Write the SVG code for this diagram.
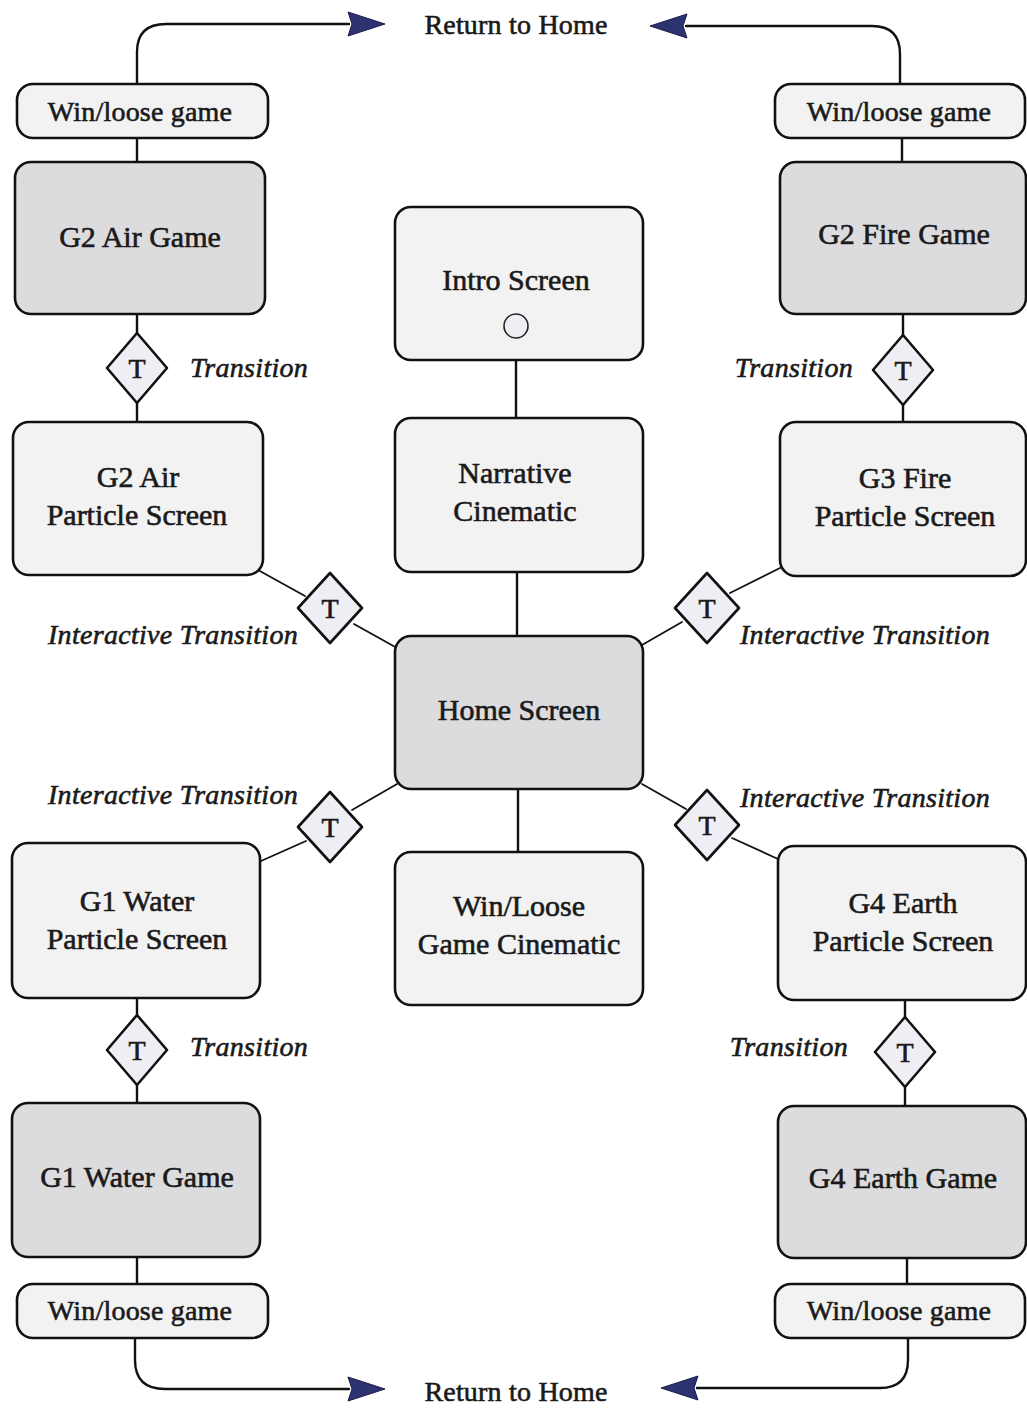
<svg xmlns="http://www.w3.org/2000/svg" width="1027" height="1408" viewBox="0 0 1027 1408">
<style>
.box{stroke:#111;stroke-width:2.6;stroke-linejoin:round}
.lt{fill:#f2f2f2}
.dk{fill:#dcdcde}
.dia{fill:#eeeef4;stroke:#111;stroke-width:2.6;stroke-linejoin:round}
text{stroke:#1a1a1a;stroke-width:0.6;fill:#1a1a1a;font-family:"Liberation Serif","Times New Roman",serif}
.lbl{font-size:30px;text-anchor:middle}
.sm{font-size:28px;text-anchor:middle;letter-spacing:0.2px}
.it{font-size:28px;font-style:italic;letter-spacing:0.3px}
.tt{font-size:28px;text-anchor:middle}
.ln{fill:none;stroke:#111;stroke-width:2.4;stroke-linecap:round}
.thin{fill:none;stroke:#111;stroke-width:1.8;stroke-linecap:round}
.ah{fill:#2d3270;stroke:#1a1d4a;stroke-width:1}
</style>
<defs>
<marker id="arr" markerUnits="userSpaceOnUse" markerWidth="40" markerHeight="28" refX="1" refY="12" orient="auto" overflow="visible">
<path class="ah" d="M0,0 L37,12 L0,24 L4,12 Z"/>
</marker>
</defs>
<rect width="1027" height="1408" fill="#ffffff"/>

<g id="connectors">
<path class="ln" d="M137,84 V52 Q137,24 166,24 H349" marker-end="url(#arr)"/>
<path class="ln" d="M900,84 V54 Q900,26 872,26 H686" marker-end="url(#arr)"/>
<path class="ln" d="M135,1338 V1360 Q135,1389 165,1389 H349" marker-end="url(#arr)"/>
<path class="ln" d="M908,1338 V1360 Q908,1388 880,1388 H697" marker-end="url(#arr)"/>
<path class="ln" d="M137,138 V162"/>
<path class="ln" d="M902,138 V162"/>
<path class="ln" d="M137,1257 V1284"/>
<path class="ln" d="M907,1258 V1284"/>
<path class="ln" d="M137,314 V333"/>
<path class="ln" d="M137,403 V422"/>
<path class="ln" d="M903,314 V335"/>
<path class="ln" d="M903,405 V422"/>
<path class="ln" d="M137,998 V1015"/>
<path class="ln" d="M137,1085 V1103"/>
<path class="ln" d="M905,1000 V1017"/>
<path class="ln" d="M905,1087 V1106"/>
<path class="ln" d="M516,360 V418"/>
<path class="ln" d="M517,572 V636"/>
<path class="ln" d="M518,789 V852"/>
<path class="thin" d="M258,570 L305,596"/>
<path class="thin" d="M354,624 L397,648"/>
<path class="thin" d="M782,567 L730,593"/>
<path class="thin" d="M682,622 L642,645"/>
<path class="thin" d="M397,784 L352,810"/>
<path class="thin" d="M306,841 L261,861"/>
<path class="thin" d="M642,784 L686,809"/>
<path class="thin" d="M732,838 L778,859"/>
</g>

<g id="return-top"><text class="sm" x="516" y="34">Return to Home</text></g>
<g id="return-bottom"><text class="sm" x="516" y="1401">Return to Home</text></g>

<g id="winloose-tl"><rect class="box lt" x="17" y="84" width="251" height="54" rx="16"/><text class="sm" x="140" y="121">Win/loose game</text></g>
<g id="winloose-tr"><rect class="box lt" x="775" y="84" width="250" height="54" rx="16"/><text class="sm" x="899" y="121">Win/loose game</text></g>
<g id="winloose-bl"><rect class="box lt" x="17" y="1284" width="251" height="54" rx="16"/><text class="sm" x="140" y="1320">Win/loose game</text></g>
<g id="winloose-br"><rect class="box lt" x="775" y="1284" width="250" height="54" rx="16"/><text class="sm" x="899" y="1320">Win/loose game</text></g>

<g id="g2-air-game"><rect class="box dk" x="15" y="162" width="250" height="152" rx="16"/><text class="lbl" x="140" y="247">G2 Air Game</text></g>
<g id="g2-fire-game"><rect class="box dk" x="780" y="162" width="246" height="152" rx="16"/><text class="lbl" x="904" y="244">G2 Fire Game</text></g>
<g id="intro-screen"><rect class="box lt" x="395" y="207" width="248" height="153" rx="16"/><text class="lbl" x="516" y="290">Intro Screen</text><circle cx="516" cy="326" r="12" fill="#eeeef4" stroke="#222" stroke-width="1.6"/></g>

<g id="g2-air-particle"><rect class="box lt" x="13" y="422" width="250" height="153" rx="16"/><text class="lbl" x="138" y="487">G2 Air</text><text class="lbl" x="137" y="525">Particle Screen</text></g>
<g id="narrative"><rect class="box lt" x="395" y="418" width="248" height="154" rx="16"/><text class="lbl" x="515" y="483">Narrative</text><text class="lbl" x="515" y="521">Cinematic</text></g>
<g id="g3-fire-particle"><rect class="box lt" x="780" y="422" width="246" height="154" rx="16"/><text class="lbl" x="905" y="488">G3 Fire</text><text class="lbl" x="905" y="526">Particle Screen</text></g>

<g id="home-screen"><rect class="box dk" x="395" y="636" width="248" height="153" rx="16"/><text class="lbl" x="519" y="720">Home Screen</text></g>

<g id="g1-water-particle"><rect class="box lt" x="12" y="843" width="248" height="155" rx="16"/><text class="lbl" x="137" y="911">G1 Water</text><text class="lbl" x="137" y="949">Particle Screen</text></g>
<g id="winloose-cinematic"><rect class="box lt" x="395" y="852" width="248" height="153" rx="16"/><text class="lbl" x="519" y="916">Win/Loose</text><text class="lbl" x="519" y="954">Game Cinematic</text></g>
<g id="g4-earth-particle"><rect class="box lt" x="778" y="846" width="248" height="154" rx="16"/><text class="lbl" x="903" y="913">G4 Earth</text><text class="lbl" x="903" y="951">Particle Screen</text></g>

<g id="g1-water-game"><rect class="box dk" x="12" y="1103" width="248" height="154" rx="16"/><text class="lbl" x="137" y="1187">G1 Water Game</text></g>
<g id="g4-earth-game"><rect class="box dk" x="778" y="1106" width="248" height="152" rx="16"/><text class="lbl" x="903" y="1188">G4 Earth Game</text></g>

<g id="t-air"><polygon class="dia" points="137,333 167,368 137,403 107,368"/><text class="tt" x="137" y="378">T</text></g>
<g id="t-fire"><polygon class="dia" points="903,335 933,370 903,405 873,370"/><text class="tt" x="903" y="380">T</text></g>
<g id="t-water"><polygon class="dia" points="137,1015 167,1050 137,1085 107,1050"/><text class="tt" x="137" y="1060">T</text></g>
<g id="t-earth"><polygon class="dia" points="905,1017 935,1052 905,1087 875,1052"/><text class="tt" x="905" y="1062">T</text></g>
<g id="it-air"><polygon class="dia" points="330,573 362,608 330,643 298,608"/><text class="tt" x="330" y="618">T</text></g>
<g id="it-fire"><polygon class="dia" points="707,573 739,608 707,643 675,608"/><text class="tt" x="707" y="618">T</text></g>
<g id="it-water"><polygon class="dia" points="330,792 362,827 330,862 298,827"/><text class="tt" x="330" y="837">T</text></g>
<g id="it-earth"><polygon class="dia" points="707,790 739,825 707,860 675,825"/><text class="tt" x="707" y="835">T</text></g>

<g id="labels">
<text class="it" x="190" y="377">Transition</text>
<text class="it" x="853" y="377" text-anchor="end">Transition</text>
<text class="it" x="190" y="1056">Transition</text>
<text class="it" x="848" y="1056" text-anchor="end">Transition</text>
<text class="it" x="298" y="644" text-anchor="end">Interactive Transition</text>
<text class="it" x="740" y="644">Interactive Transition</text>
<text class="it" x="298" y="804" text-anchor="end">Interactive Transition</text>
<text class="it" x="740" y="807">Interactive Transition</text>
</g>
</svg>
